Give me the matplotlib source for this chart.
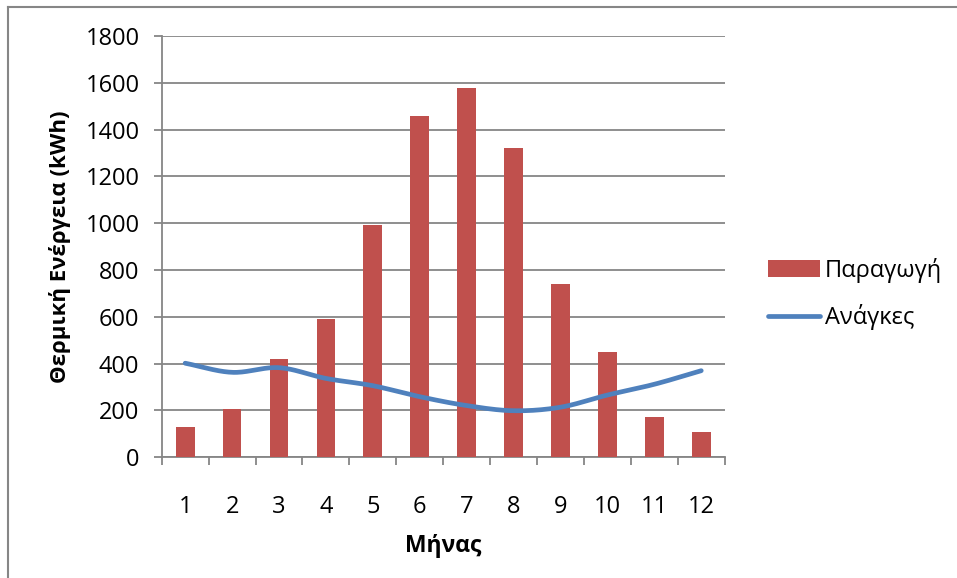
import numpy as np
import matplotlib.pyplot as plt
from matplotlib.lines import Line2D

# Μηνιαία θερμική ενέργεια (kWh)
mines = [1, 2, 3, 4, 5, 6, 7, 8, 9, 10, 11, 12]
paragogi = [131, 206, 420, 590, 992, 1457, 1576, 1322, 740, 450, 171, 108]
anagkes = [402, 363, 383, 337, 306, 259, 221, 199, 214, 266, 312, 370]

plt.rcParams['font.family'] = ['Open Sans', 'DejaVu Sans']

KOKKINO = '#C0504D'
MPLE = '#4F81BD'
GKRI = '#868686'


def smooth(x, y, n=30):
    # καμπύλη Catmull-Rom μέσα από τα σημεία
    x = np.asarray(x, float)
    y = np.asarray(y, float)
    px = np.concatenate([[2 * x[0] - x[1]], x, [2 * x[-1] - x[-2]]])
    py = np.concatenate([[2 * y[0] - y[1]], y, [2 * y[-1] - y[-2]]])
    xs, ys = [], []
    t = np.linspace(0, 1, n)
    for i in range(1, len(px) - 2):
        for p, out in ((px, xs), (py, ys)):
            p0, p1, p2, p3 = p[i - 1], p[i], p[i + 1], p[i + 2]
            out.extend(0.5 * (2 * p1 + (-p0 + p2) * t
                              + (2 * p0 - 5 * p1 + 4 * p2 - p3) * t ** 2
                              + (-p0 + 3 * p1 - 3 * p2 + p3) * t ** 3))
    return np.array(xs), np.array(ys)


fig = plt.figure(figsize=(9.57, 5.78), dpi=100)
ax = fig.add_axes([161.7 / 957, 1 - 457.3 / 578, 563 / 957, 421.3 / 578])

# πλαίσιο γραφήματος (μόνο αριστερά και πάνω φαίνεται)
fig.add_artist(Line2D([8 / 957, 8 / 957], [0, 1 - 6.5 / 578], transform=fig.transFigure,
                      color=GKRI, lw=1.5))
fig.add_artist(Line2D([8 / 957, 1], [1 - 6.5 / 578, 1 - 6.5 / 578], transform=fig.transFigure,
                      color=GKRI, lw=1.5))

bars = ax.bar(mines, paragogi, width=0.4, color=KOKKINO, zorder=3, label='Παραγωγή')
sx, sy = smooth(mines, anagkes)
line, = ax.plot(sx, sy, color=MPLE, lw=3.4, solid_capstyle='round', zorder=4, label='Ανάγκες')

ax.set_xlim(0.5, 12.5)
ax.set_ylim(0, 1800)
ax.set_yticks(range(0, 1801, 200))
ax.set_xticks(mines)
ax.set_xticks(np.arange(0.5, 12.6, 1), minor=True)
ax.yaxis.grid(True, color=GKRI, lw=1.3, zorder=0)
ax.set_axisbelow(True)

for s in ['top', 'right']:
    ax.spines[s].set_visible(False)
for s in ['left', 'bottom']:
    ax.spines[s].set_color(GKRI)
    ax.spines[s].set_linewidth(1.3)

ax.tick_params(axis='y', direction='out', length=6, width=1.3, color=GKRI,
               labelsize=17, pad=10)
ax.tick_params(axis='x', which='major', length=0, labelsize=17, pad=27)
ax.tick_params(axis='x', which='minor', direction='out', length=5.5, width=1.3, color=GKRI)

fig.text(60 / 957, 1 - 247 / 578, 'Θερμική Ενέργεια (kWh)', rotation=90,
         ha='center', va='center', fontsize=16, fontweight='bold')
fig.text(443 / 957, 1 - 546 / 578, 'Μήνας', ha='center', va='center',
         fontsize=16.5, fontweight='bold')

fig.legend([bars, line], ['Παραγωγή', 'Ανάγκες'], loc='center left',
           bbox_to_anchor=(759 / 957, 1 - 294 / 578), frameon=False,
           fontsize=17, handlelength=2.2, handletextpad=0.2, labelspacing=0.9,
           borderaxespad=0)

fig.savefig('out.png', dpi=100, facecolor='white')
